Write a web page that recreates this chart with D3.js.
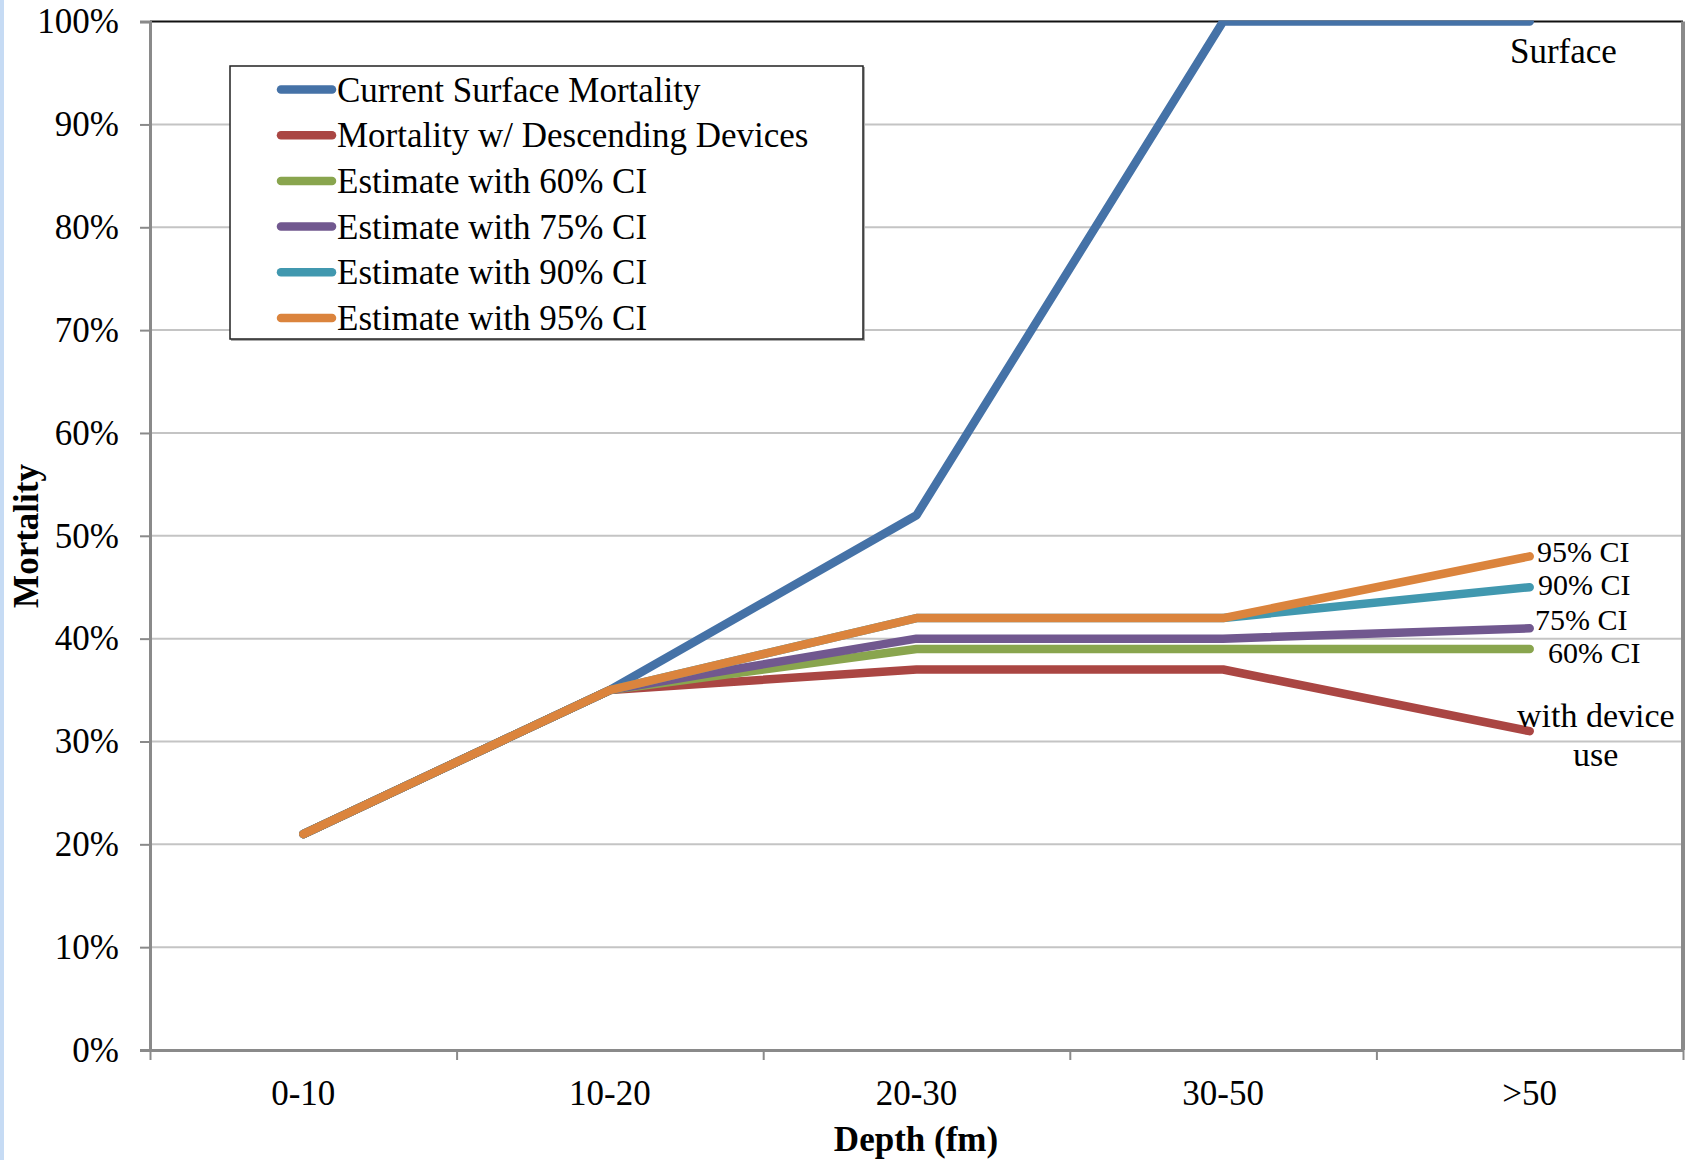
<!DOCTYPE html>
<html>
<head>
<meta charset="utf-8">
<script src="https://cdn.jsdelivr.net/npm/d3@7"></script>
<style>
  html, body { margin: 0; padding: 0; background: #fff; }
  svg { display: block; font-family: "Liberation Serif", "Times New Roman", serif; }
</style>
</head>
<body>
<svg id="chart" width="1694" height="1160"></svg>
<script>
// Data
const depths = ["0-10", "10-20", "20-30", "30-50", ">50"];
const seriesNames = [
    "Current Surface Mortality",
    "Mortality w/ Descending Devices",
    "Estimate with 60% CI",
    "Estimate with 75% CI",
    "Estimate with 90% CI",
    "Estimate with 95% CI"
];
const surfaceMortality = [0.21, 0.35, 0.52, 1.00, 1.00];
const deviceMortality = [0.21, 0.35, 0.37, 0.37, 0.31];
const ci60 = [0.21, 0.35, 0.39, 0.39, 0.39];
const ci75 = [0.21, 0.35, 0.40, 0.40, 0.41];
const ci90 = [0.21, 0.35, 0.42, 0.42, 0.45];
const ci95 = [0.21, 0.35, 0.42, 0.42, 0.48];
const yTicks = [0, 0.1, 0.2, 0.3, 0.4, 0.5, 0.6, 0.7, 0.8, 0.9, 1.0];

const colors = ["#4572A7", "#AA4643", "#89A54E", "#71588F", "#4198AF", "#DB843D"];
const allSeries = [surfaceMortality, deviceMortality, ci60, ci75, ci90, ci95];

const svg = d3.select("#chart");

// light blue strip at the left edge
svg.append("rect").attr("x", 0).attr("y", 0).attr("width", 4).attr("height", 1160).attr("fill", "#c6dbf4");

const plotLeft = 150, plotRight = 1683, plotTop = 21.6, plotBottom = 1050;

const xBand = d3.scaleBand().domain(depths).range([plotLeft, plotRight]);
const xPos = d => xBand(d) + xBand.bandwidth() / 2;
const xEdge = d3.scaleLinear().domain([0, depths.length]).range([plotLeft, plotRight]);
const y = d3.scaleLinear().domain([0, 1]).range([plotBottom, plotTop]);

// gridlines
svg.append("g")
    .selectAll("line")
    .data(yTicks.filter(t => t > 0 && t < 1))
    .join("line")
    .attr("x1", plotLeft).attr("x2", plotRight)
    .attr("y1", d => y(d)).attr("y2", d => y(d))
    .attr("stroke", "#c4c4c4")
    .attr("stroke-width", 2);

// top border (black) and right border (gray)
svg.append("line").attr("x1", plotLeft).attr("x2", plotRight).attr("y1", plotTop).attr("y2", plotTop)
    .attr("stroke", "#111").attr("stroke-width", 2);
svg.append("line").attr("x1", plotRight).attr("x2", plotRight).attr("y1", plotTop).attr("y2", plotBottom)
    .attr("stroke", "#8a8a8a").attr("stroke-width", 4);

// Y axis
const yAxis = svg.append("g")
    .attr("transform", `translate(${plotLeft},0)`)
    .call(d3.axisLeft(y).tickValues(yTicks).tickFormat(d3.format(".0%")).tickSize(10).tickPadding(21));
yAxis.select(".domain").attr("stroke", "#8a8a8a").attr("stroke-width", 3);
yAxis.selectAll(".tick line").attr("stroke", "#8a8a8a").attr("stroke-width", 2);
yAxis.selectAll("text").attr("font-size", 35).attr("fill", "#000")
    .attr("font-family", "Liberation Serif, Times New Roman, serif");

// X axis (ticks at category boundaries)
const xAxis = svg.append("g")
    .attr("transform", `translate(0,${plotBottom})`)
    .call(d3.axisBottom(xEdge).tickValues(d3.range(depths.length + 1)).tickFormat("").tickSize(10).tickSizeOuter(0));
xAxis.select(".domain").attr("stroke", "#8a8a8a").attr("stroke-width", 3);
xAxis.selectAll(".tick line").attr("stroke", "#8a8a8a").attr("stroke-width", 2);

svg.append("g")
    .selectAll("text")
    .data(depths)
    .join("text")
    .attr("x", d => xPos(d))
    .attr("y", 1105)
    .attr("text-anchor", "middle")
    .attr("font-size", 35)
    .text(d => d);

// axis titles
svg.append("text")
    .attr("x", 916).attr("y", 1151)
    .attr("text-anchor", "middle")
    .attr("font-size", 35).attr("font-weight", "bold")
    .text("Depth (fm)");
svg.append("text")
    .attr("transform", "translate(38,536) rotate(-90)")
    .attr("text-anchor", "middle")
    .attr("font-size", 35).attr("font-weight", "bold")
    .text("Mortality");

// lines, clipped to plot area
svg.append("clipPath").attr("id", "plotclip")
    .append("rect").attr("x", plotLeft).attr("y", plotTop - 1)
    .attr("width", plotRight - plotLeft).attr("height", plotBottom - plotTop + 1);

const line = d3.line()
    .x((d, i) => xPos(depths[i]))
    .y(d => y(d));

svg.append("g")
    .attr("clip-path", "url(#plotclip)")
    .selectAll("path")
    .data(allSeries)
    .join("path")
    .attr("d", d => line(d))
    .attr("fill", "none")
    .attr("stroke", (d, i) => colors[i])
    .attr("stroke-width", 8.5)
    .attr("stroke-linejoin", "round")
    .attr("stroke-linecap", "round");

// end labels
const endLabels = [
    { text: "Surface", x: 1510, y: 63, size: 35 },
    { text: "95% CI", x: 1537, y: 562, size: 30 },
    { text: "90% CI", x: 1538, y: 595, size: 30 },
    { text: "75% CI", x: 1535, y: 630, size: 30 },
    { text: "60% CI", x: 1548, y: 663, size: 30 },
    { text: "with device", x: 1517, y: 727, size: 34 },
    { text: "use", x: 1573, y: 766, size: 34 }
];
svg.append("g")
    .selectAll("text")
    .data(endLabels)
    .join("text")
    .attr("x", d => d.x).attr("y", d => d.y)
    .attr("font-size", d => d.size)
    .attr("fill", "#000")
    .text(d => d.text);

// legend
const legend = svg.append("g");
legend.append("rect")
    .attr("x", 231).attr("y", 67).attr("width", 634).attr("height", 274)
    .attr("fill", "#aaa");
legend.append("rect")
    .attr("x", 230).attr("y", 66).attr("width", 633).attr("height", 273)
    .attr("fill", "#fff").attr("stroke", "#222").attr("stroke-width", 1.5);

const rowY = i => 89.5 + i * 45.7;
const items = legend.selectAll(".item")
    .data(seriesNames)
    .join("g")
    .attr("class", "item");
items.append("line")
    .attr("x1", 281).attr("x2", 332)
    .attr("y1", (d, i) => rowY(i)).attr("y2", (d, i) => rowY(i))
    .attr("stroke", (d, i) => colors[i])
    .attr("stroke-width", 8.5)
    .attr("stroke-linecap", "round");
items.append("text")
    .attr("x", 337)
    .attr("y", (d, i) => rowY(i) + 12)
    .attr("font-size", 35)
    .text(d => d);
</script>
</body>
</html>
